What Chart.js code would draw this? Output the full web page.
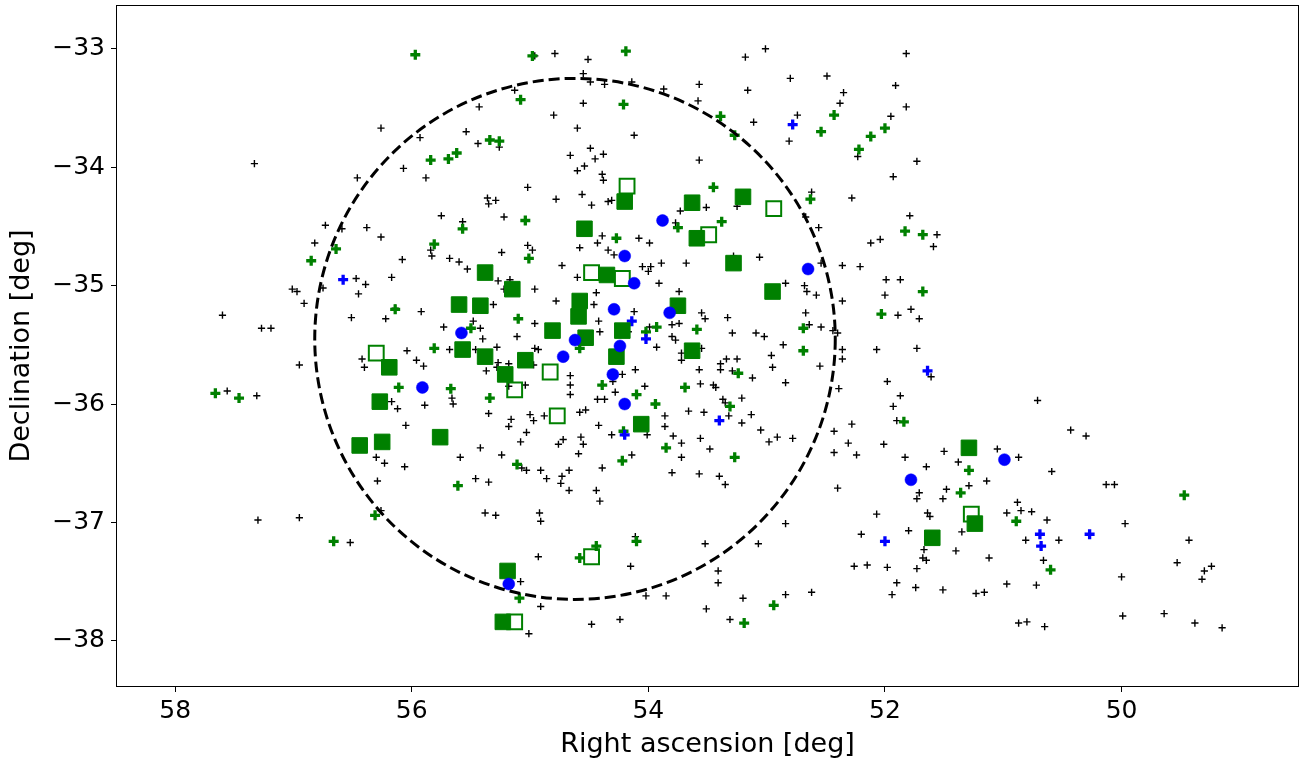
<!doctype html>
<html lang="en">
  <head>
    <meta charset="utf-8">
    <title>Sky positions</title>
    <style>
      * { margin: 0; padding: 0; }
      body { background: #fff; }
      .chartBox { width: 1303px; height: 763px; }
    </style>
  </head>
  <body>
    <div class="chartBox">
      <canvas id="myChart"></canvas>
    </div>
    <script src="https://cdn.jsdelivr.net/npm/chart.js/dist/chart.umd.min.js"></script>
    <script>
    // axis ticks
    const xTicks = [58, 56, 54, 52, 50];
    const yTicks = [-33, -34, -35, -36, -37, -38];

    // dashed ring (centre and radius, deg)
    const ringRA = 54.62;
    const ringDec = -35.45;
    const ringRadius = 2.2;

    // small black crosses
    const blackRA = [56.26,57.33,56.07,56.46,56.73,56.59,56.38,
      55.93,54.96,54.79,54.51,54.55,54.49,54.37,54.14,53.87,53.57,53.58,55.13,55.43,54.55,54.80,54.60,54.12,55.54,55.44,55.26,54.49,54.38,54.66,54.45,54.54,54.60,54.39,54.38,53.57,55.88,55.02,54.78,54.56,54.48,54.34,54.31,55.36,55.35,55.29,55.75,55.57,55.22,53.73,53.77,53.51,
      53.18,53.01,51.82,52.80,52.49,53.16,52.35,52.38,51.91,51.82,51.95,52.74,53.11,52.81,52.23,51.73,51.93,52.62,52.28,53.25,52.67,52.56,51.79,51.56,
      56.82,56.26,56.08,56.47,56.39,56.45,56.17,57.01,56.97,56.75,56.91,57.60,57.27,57.19,56.51,56.22,56.14,56.04,56.95,56.42,56.40,57.56,57.31,56.17,56.12,56.05,56.30,
      55.84,55.83,55.68,55.60,55.53,55.24,55.02,54.98,54.58,54.43,54.39,54.34,54.29,54.08,53.99,54.73,54.60,54.05,53.98,54.00,53.89,53.68,53.91,53.74,55.27,55.17,55.22,54.96,54.78,54.44,54.46,55.31,55.92,55.73,55.48,55.42,55.40,54.96,55.11,54.42,54.41,54.12,54.17,53.99,53.80,53.74,53.80,53.77,53.55,53.52,53.93,53.72,53.72,53.55,55.68,55.46,55.28,54.96,54.93,55.96,55.90,55.27,55.18,55.28,55.37,54.97,54.11,53.57,53.56,54.66,54.66,54.66,55.04,55.18,54.30,54.22,54.28,54.03,54.43,54.37,55.89,55.66,55.65,55.35,55.16,55.18,55.00,54.97,54.88,55.03,55.08,54.58,54.53,54.42,54.31,54.72,54.76,54.57,54.55,54.59,55.42,55.59,55.24,54.14,54.01,53.86,53.86,53.79,53.72,53.66,53.53,53.56,53.72,
      53.06,53.28,52.84,52.54,52.36,52.21,52.12,52.04,51.59,52.68,52.66,52.58,52.36,51.99,51.87,52.00,51.89,51.78,51.71,51.73,52.07,51.61,51.98,51.87,51.93,51.90,52.67,52.64,52.54,52.44,52.40,52.36,52.36,52.55,52.39,52.28,52.43,52.31,52.01,52.43,52.24,51.83,51.50,51.38,51.05,53.33,53.29,53.09,53.02,52.86,52.96,52.95,53.34,53.25,53.39,53.39,53.29,53.12,52.84,53.45,53.43,53.37,53.35,53.21,53.32,53.13,53.21,53.05,52.98,52.91,52.78,53.48,
      50.71,50.43,50.30,50.87,
      56.23,56.06,56.29,57.30,56.95,56.26,56.52,
      55.07,55.03,54.91,54.86,54.73,54.74,54.67,54.67,54.44,54.41,54.39,55.46,55.35,55.38,55.29,54.92,54.91,53.80,53.57,54.93,54.15,55.08,54.91,55.01,54.48,54.24,54.02,53.85,53.52,54.11,53.51,
      51.65,51.14,51.29,51.48,51.51,51.71,51.73,51.64,51.62,52.07,51.80,52.20,51.35,50.97,51.67,51.68,51.65,51.40,51.12,51.73,51.98,52.15,52.26,51.90,51.94,51.74,51.51,51.23,51.16,50.97,52.40,52.84,53.07,53.40,53.35,53.41,53.41,53.20,53.31,52.84,52.62,
      50.59,50.13,50.06,50.88,50.85,50.76,50.63,49.97,50.81,50.53,49.43,50.66,49.53,49.30,49.24,49.32,50.72,50.00,49.99,49.64,49.38,49.15,50.87,50.80,50.65];
    const blackDec = [-33.67,-33.97,-34.01,-34.09,-34.49,-34.52,-34.51,
      -33.75,-33.06,-33.04,-33.09,-33.21,-33.28,-33.30,-33.28,-33.34,-33.30,-33.44,-33.35,-33.49,-33.46,-33.56,-33.67,-33.73,-33.70,-33.80,-33.83,-33.84,-33.89,-33.90,-33.93,-33.99,-34.03,-34.06,-34.11,-33.94,-34.09,-34.17,-34.27,-34.23,-34.32,-34.29,-34.28,-34.26,-34.31,-34.28,-34.41,-34.46,-34.42,-34.37,-34.47,-34.34,
      -33.07,-33.00,-33.04,-33.25,-33.23,-33.35,-33.37,-33.46,-33.31,-33.49,-33.57,-33.56,-33.62,-33.78,-33.91,-33.95,-34.08,-34.21,-34.26,-34.33,-34.42,-34.51,-34.41,-34.57,
      -34.64,-34.59,-34.78,-34.94,-34.99,-35.07,-34.93,-35.03,-35.05,-35.02,-35.15,-35.25,-35.36,-35.36,-35.27,-35.28,-35.19,-35.55,-35.67,-35.62,-35.69,-35.89,-35.93,-35.98,-36.04,-36.18,-36.45,
      -34.70,-34.75,-34.77,-34.80,-34.86,-34.72,-34.66,-34.70,-34.68,-34.64,-34.58,-34.70,-34.74,-34.60,-34.64,-34.83,-34.93,-34.84,-34.84,-34.88,-34.81,-34.81,-34.98,-35.05,-34.96,-34.95,-35.03,-35.03,-35.13,-35.06,-35.16,-35.16,-35.22,-35.35,-35.30,-35.36,-35.45,-35.32,-35.43,-35.30,-35.39,-35.22,-35.39,-35.35,-35.33,-35.32,-35.43,-35.46,-35.23,-35.28,-35.52,-35.57,-35.63,-35.53,-35.54,-35.54,-35.52,-35.53,-35.54,-35.63,-35.68,-35.65,-35.66,-35.69,-35.72,-35.67,-35.71,-35.71,-35.83,-35.76,-35.84,-35.92,-35.84,-35.85,-35.81,-35.75,-35.90,-35.85,-35.96,-35.96,-36.01,-35.95,-36.00,-36.08,-36.13,-36.19,-36.09,-36.14,-36.10,-36.24,-36.32,-36.07,-36.05,-36.18,-36.26,-36.30,-36.34,-36.28,-36.34,-36.42,-36.37,-36.45,-36.43,-36.43,-36.26,-36.10,-36.19,-36.27,-36.33,-36.06,-36.07,-36.29,-36.45,
      -34.76,-34.75,-34.98,-34.81,-34.83,-34.84,-34.64,-34.61,-34.67,-35.00,-35.05,-35.08,-35.13,-34.95,-34.95,-35.08,-35.25,-35.20,-35.28,-35.53,-35.54,-35.77,-35.81,-35.93,-36.02,-36.14,-35.23,-35.33,-35.35,-35.38,-35.40,-35.54,-35.62,-35.68,-35.87,-36.17,-36.23,-36.33,-36.34,-36.41,-36.43,-36.45,-36.40,-36.49,-36.38,-35.27,-35.40,-35.40,-35.43,-35.50,-35.59,-35.69,-35.62,-35.62,-35.66,-35.71,-35.72,-35.78,-35.82,-35.84,-35.86,-35.96,-35.99,-35.95,-36.10,-36.09,-36.16,-36.22,-36.32,-36.28,-36.29,-36.38,
      -35.97,-36.22,-36.27,-36.45,
      -36.50,-36.53,-36.65,-36.98,-36.96,-36.90,-37.17,
      -36.54,-36.56,-36.56,-36.63,-36.61,-36.67,-36.56,-36.73,-36.73,-36.82,-36.54,-36.63,-36.66,-36.92,-36.94,-36.92,-36.99,-36.58,-36.59,-37.29,-37.37,-37.50,-37.71,-37.94,-37.86,-37.82,-37.62,-37.62,-37.18,-37.12,-37.73,
      -36.53,-36.65,-36.69,-36.72,-36.80,-36.75,-36.80,-36.92,-36.95,-36.93,-37.07,-37.10,-37.08,-36.92,-37.23,-37.30,-37.32,-37.24,-37.30,-37.39,-37.38,-37.36,-37.37,-37.51,-37.61,-37.55,-37.57,-37.60,-37.59,-37.52,-36.71,-37.01,-37.18,-36.61,-36.68,-37.41,-37.51,-37.64,-37.82,-37.61,-37.59,
      -36.57,-36.68,-36.68,-36.83,-36.90,-36.91,-36.98,-37.01,-37.15,-37.15,-37.15,-37.32,-37.34,-37.41,-37.37,-37.48,-37.53,-37.46,-37.79,-37.77,-37.85,-37.89,-37.85,-37.84,-37.88];

    // bold green crosses
    const greenRA = [55.97,54.98,54.19,55.08,54.21,55.34,55.26,55.62,55.69,55.84,55.04,55.57,53.75,53.39,53.27,52.43,52.54,52.00,52.12,52.22,53.45,52.63,53.38,51.83,51.68,56.64,56.85,56.14,56.11,57.66,57.46,55.81,54.27,55.01,55.10,55.50,55.81,53.93,54.02,53.59,54.58,55.67,55.34,54.39,54.10,53.94,53.69,54.21,53.85,54.22,55.11,51.68,52.03,52.69,52.69,53.24,53.31,51.84,53.27,56.31,56.66,55.61,54.10,55.09,54.44,54.58,51.29,51.36,52.94,53.19,50.89,50.60,49.47];
    const greenDec = [-33.05,-33.06,-33.02,-33.43,-33.47,-33.77,-33.78,-33.88,-33.93,-33.94,-34.45,-34.52,-34.51,-33.57,-33.73,-33.56,-33.70,-33.67,-33.74,-33.85,-34.17,-34.27,-34.46,-34.54,-34.57,-34.69,-34.79,-35.20,-35.86,-35.91,-35.95,-34.65,-34.60,-34.77,-35.28,-35.36,-35.53,-35.35,-35.39,-35.37,-35.53,-35.87,-35.95,-35.84,-35.92,-36.00,-35.86,-36.23,-36.37,-36.48,-36.51,-35.05,-35.24,-35.36,-35.55,-35.74,-36.02,-36.15,-36.45,-36.94,-37.16,-36.69,-37.16,-37.64,-37.20,-37.30,-36.56,-36.75,-37.70,-37.85,-36.99,-37.40,-36.77];

    // bold blue crosses
    const bluePlusRA = [52.78,56.58,54.14,54.02,54.20,51.64,53.40,52.00,50.69,50.68,50.27];
    const bluePlusDec = [-33.64,-34.95,-35.30,-35.45,-36.26,-35.72,-36.14,-37.16,-37.10,-37.20,-37.10];

    // blue dots
    const circleRA = [53.88,54.20,54.12,54.29,53.82,55.58,54.62,54.24,54.72,54.30,55.91,54.20,52.65,50.99,55.18,51.78];
    const circleDec = [-34.45,-34.75,-34.98,-35.20,-35.23,-35.40,-35.46,-35.51,-35.60,-35.75,-35.86,-36.00,-34.86,-36.47,-37.52,-36.64];

    // filled green squares
    const squareRA = [54.20,53.63,54.54,53.59,53.20,56.19,56.27,56.44,56.25,55.38,55.15,54.35,55.60,55.42,54.58,54.59,53.75,54.81,54.22,54.53,55.57,55.38,55.04,54.27,53.63,55.21,54.06,55.76,53.28,52.95,51.29,55.19,55.23,51.24,51.60];
    const squareDec = [-34.29,-34.30,-34.52,-34.60,-34.25,-35.69,-35.98,-36.35,-36.32,-34.89,-35.03,-34.91,-35.16,-35.17,-35.13,-35.26,-35.17,-35.38,-35.38,-35.44,-35.54,-35.60,-35.63,-35.60,-35.55,-35.75,-36.17,-36.28,-34.81,-35.05,-36.37,-37.41,-37.84,-37.01,-37.13];

    // open green squares
    const openSqRA = [54.18,52.94,53.49,56.30,54.48,54.22,54.83,55.13,54.77,54.48,55.13,51.27];
    const openSqDec = [-34.16,-34.35,-34.57,-35.57,-34.89,-34.94,-35.73,-35.88,-36.10,-37.29,-37.84,-36.93];

    const pts = (xs, ys) => xs.map((v, i) => ({x: v, y: ys[i]}));

    const GREEN = '#008000';
    const BLUE = '#0000ff';
    const TICK_FONT = {family: '"DejaVu Sans", sans-serif', size: 25};
    const TITLE_FONT = {family: '"DejaVu Sans", sans-serif', size: 27};

    // dashed ring + frame drawn with the scales
    const ringPlugin = {
      id: 'ring',
      afterDatasetsDraw(chart) {
        const {ctx, scales: {x, y}} = chart;
        const cx = x.getPixelForValue(ringRA);
        const cy = y.getPixelForValue(ringDec);
        const rx = Math.abs(x.getPixelForValue(ringRA + ringRadius) - cx);
        const ry = Math.abs(y.getPixelForValue(ringDec + ringRadius) - cy);
        ctx.save();
        ctx.beginPath();
        ctx.rect(chart.chartArea.left, chart.chartArea.top, chart.chartArea.width, chart.chartArea.height);
        ctx.clip();
        ctx.setLineDash([11, 5]);
        ctx.lineWidth = 3;
        ctx.strokeStyle = '#000';
        ctx.beginPath();
        ctx.ellipse(cx, cy, rx, ry, 0, 0, Math.PI * 2);
        ctx.stroke();
        ctx.restore();
      },
      afterDraw(chart) {
        const {ctx, chartArea: a} = chart;
        ctx.save();
        ctx.strokeStyle = '#000';
        ctx.lineWidth = 1;
        ctx.strokeRect(a.left + 0.5, a.top + 0.5, a.width - 1, a.height - 1);
        ctx.restore();
      }
    };

    const data = {
      datasets: [
        {label: 'dots', data: pts(circleRA, circleDec), pointStyle: 'circle', radius: 6,
          backgroundColor: BLUE, borderColor: BLUE, borderWidth: 0.5},
        {label: 'squares', data: pts(squareRA, squareDec), pointStyle: 'rect', radius: 11,
          backgroundColor: GREEN, borderColor: GREEN, borderWidth: 1},
        {label: 'open squares', data: pts(openSqRA, openSqDec), pointStyle: 'rect', radius: 10.5,
          backgroundColor: 'rgba(0,0,0,0)', borderColor: GREEN, borderWidth: 2},
        {label: 'blue crosses', data: pts(bluePlusRA, bluePlusDec), pointStyle: 'cross', radius: 5,
          borderColor: BLUE, borderWidth: 3.3},
        {label: 'green crosses', data: pts(greenRA, greenDec), pointStyle: 'cross', radius: 5,
          borderColor: GREEN, borderWidth: 3.3},
        {label: 'black crosses', data: pts(blackRA, blackDec), pointStyle: 'cross', radius: 3.6,
          borderColor: '#000', borderWidth: 1.4}
      ]
    };

    // no extra room for overhanging tick labels
    const noPad = (s) => { s.paddingTop = 0; s.paddingBottom = 0; s.paddingLeft = 0; s.paddingRight = 0; };

    const config = {
      type: 'scatter',
      data,
      options: {
        responsive: true,
        maintainAspectRatio: false,
        animation: false,
        devicePixelRatio: 1,
        layout: {autoPadding: false, padding: {top: 5, right: 4, left: 0, bottom: 0}},
        plugins: {legend: {display: false}, tooltip: {enabled: false}},
        elements: {point: {hoverRadius: 0}},
        scales: {
          x: {
            type: 'linear', min: 48.5, max: 58.5, reverse: true,
            afterBuildTicks: (s) => { s.ticks = xTicks.map(v => ({value: v})); },
            afterFit: (s) => { s.height = 76; noPad(s); },
            ticks: {color: '#000', font: TICK_FONT, padding: 4, maxRotation: 0},
            grid: {drawOnChartArea: false, color: '#000', tickLength: 5, tickWidth: 1},
            border: {display: false},
            title: {display: true, text: 'Right ascension [deg]', color: '#000', font: TITLE_FONT,
              padding: {top: 0, bottom: 2}}
          },
          y: {
            type: 'linear', min: -38.39, max: -32.63,
            afterBuildTicks: (s) => { s.ticks = yTicks.map(v => ({value: v})); },
            afterFit: (s) => { s.width = 116; noPad(s); },
            ticks: {color: '#000', font: TICK_FONT, padding: 6,
              callback: (v) => (v < 0 ? '\u2212' : '') + Math.abs(v)},
            grid: {drawOnChartArea: false, color: '#000', tickLength: 5, tickWidth: 1},
            border: {display: false},
            title: {display: true, text: 'Declination [deg]', color: '#000', font: TITLE_FONT,
              padding: {top: 6, bottom: 0}}
          }
        }
      },
      plugins: [ringPlugin]
    };

    const myChart = new Chart(document.getElementById('myChart'), config);
    </script>
  </body>
</html>
